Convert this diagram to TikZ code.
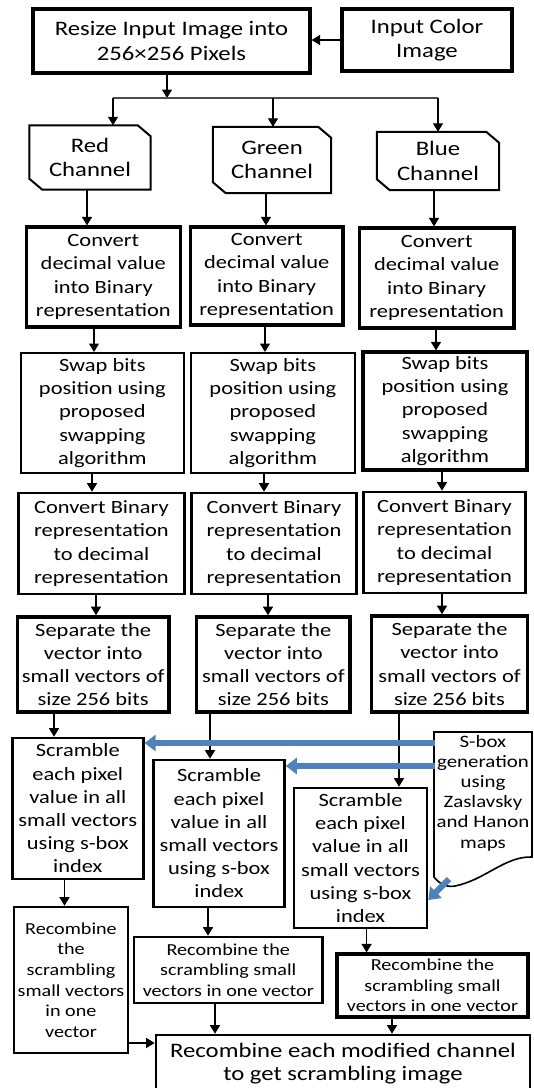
\documentclass[tikz,border=0pt]{standalone}
\usepackage{fontspec}
\setmainfont{Carlito}[FakeStretch=1.2]
\usetikzlibrary{arrows.meta,calc}

\definecolor{sboxblue}{RGB}{79,129,189}

\begin{document}
\begin{tikzpicture}[x=1pt,y=-1pt,
  frame/.style={draw=black,rectangle,align=center,inner sep=0pt,fill=white,text=black},
  thinbox/.style={frame,line width=2pt},
  midbox/.style={frame,line width=2.6pt},
  thickbox/.style={frame,line width=3.2pt},
  bigtext/.style={font=\fontsize{20.6}{24.5}\selectfont},
  finaltext/.style={font=\fontsize{20.6}{23}\selectfont},
  maintext/.style={font=\fontsize{18.7}{23.2}\selectfont},
  smalltext/.style={font=\fontsize{16.8}{20.6}\selectfont},
  sboxtext/.style={font=\fontsize{17.4}{20.2}\selectfont},
  plain/.style={draw=black,line width=1.3pt},
  arr/.style={plain,-{Triangle[width=10pt,length=8.5pt]}},
  bluearr/.style={draw=sboxblue,line width=6pt,-{Triangle[width=16pt,length=11pt]}},
  chanline/.style={draw=black,line width=2pt,line join=miter},
  docline/.style={draw=black,line width=1.6pt}
]
% page area
\fill[white] (0,0) rectangle (534,1088);
\useasboundingbox (0,0) rectangle (534,1088);

% top row
\node[thickbox,bigtext,minimum width=277pt,minimum height=64pt] (resize) at (171.5,41) {Resize Input Image into\\256×256 Pixels};
\node[thickbox,bigtext,minimum width=170pt,minimum height=62pt] (input) at (427,40) {Input Color\\Image};

% colour channels (outlines drawn below)
\node[bigtext,align=center,minimum width=121pt,minimum height=64pt,inner sep=0pt] (red) at (90,157.5) {Red\\Channel};
\node[bigtext,align=center,minimum width=118pt,minimum height=66pt,inner sep=0pt] (green) at (272,160) {Green\\Channel};
\node[bigtext,align=center,minimum width=122pt,minimum height=58pt,inner sep=0pt] (blue) at (438,161) {Blue\\Channel};
\foreach \c in {red,green,blue}{
  \draw[chanline] (\c.north west) -- ([xshift=-13pt]\c.north east) -- ([yshift=-11pt]\c.north east)
    -- (\c.south east) -- ([xshift=13pt]\c.south west) -- ([yshift=11pt]\c.south west) -- cycle;
}

% decimal to binary
\node[thickbox,maintext,minimum width=153.6pt,minimum height=100pt] (convR) at (103.3,277) {Convert\\decimal value\\into Binary\\representation};
\node[thickbox,maintext,minimum width=152.5pt,minimum height=98pt] (convG) at (266.7,276) {Convert\\decimal value\\into Binary\\representation};
\node[thickbox,maintext,minimum width=154.6pt,minimum height=100pt] (convB) at (436.7,278) {Convert\\decimal value\\into Binary\\representation};

% bit swapping
\node[thinbox,maintext,minimum width=163.8pt,minimum height=120pt] (swapR) at (102.4,413) {Swap bits\\position using\\proposed\\swapping\\algorithm};
\node[thinbox,maintext,minimum width=164.8pt,minimum height=120pt] (swapG) at (272.9,413) {Swap bits\\position using\\proposed\\swapping\\algorithm};
\node[thickbox,maintext,minimum width=164pt,minimum height=118pt] (swapB) at (445,411) {Swap bits\\position using\\proposed\\swapping\\algorithm};

% binary to decimal
\node[midbox,maintext,minimum width=166pt,minimum height=101pt] (cbinR) at (101.4,543.5) {Convert Binary\\representation\\to decimal\\representation};
\node[midbox,maintext,minimum width=165pt,minimum height=101pt] (cbinG) at (274,543.5) {Convert Binary\\representation\\to decimal\\representation};
\node[midbox,maintext,minimum width=162pt,minimum height=101pt] (cbinB) at (444.5,542.5) {Convert Binary\\representation\\to decimal\\representation};

% splitting into small vectors
\node[thickbox,maintext,minimum width=151.6pt,minimum height=95pt,line width=3.6pt] (sepR) at (93.2,664.5) {Separate the\\vector into\\small vectors of\\size 256 bits};
\node[thickbox,maintext,minimum width=153.6pt,minimum height=95pt,line width=3.6pt] (sepG) at (273.4,664.5) {Separate the\\vector into\\small vectors of\\size 256 bits};
\node[thickbox,maintext,minimum width=155.7pt,minimum height=96pt,line width=3.6pt] (sepB) at (449.5,664) {Separate the\\vector into\\small vectors of\\size 256 bits};

% scrambling
\node[midbox,maintext,minimum width=131pt,minimum height=141pt] (scrR) at (77.8,808.5) {Scramble\\each pixel\\value in all\\small vectors\\using s-box\\index};
\node[midbox,maintext,minimum width=131pt,minimum height=147pt] (scrG) at (219,833.5) {Scramble\\each pixel\\value in all\\small vectors\\using s-box\\index};
\node[midbox,maintext,minimum width=133pt,minimum height=140pt] (scrB) at (360.5,858) {Scramble\\each pixel\\value in all\\small vectors\\using s-box\\index};

% s-box document
\node[sboxtext,align=center,inner sep=0pt] (sbox) at (483,793) {S-box\\generation\\using\\Zaslavsky\\and Hanon\\maps};
\draw[docline] (434,732) -- (532,732) -- (532,857)
  .. controls (505,856) and (485,880) .. (455,886)
  .. controls (445,888) and (438,882) .. (434,877) -- cycle;

% recombining
\node[midbox,smalltext,minimum width=114pt,minimum height=146pt] (recR) at (71,980) {Recombine\\the\\scrambling\\small vectors\\in one\\vector};
\node[midbox,smalltext,minimum width=188.6pt,minimum height=66pt] (recG) at (228.3,970) {Recombine the\\scrambling small\\vectors in one vector};
\node[thickbox,smalltext,minimum width=191pt,minimum height=63pt] (recB) at (432.5,985.5) {Recombine the\\scrambling small\\vectors in one vector};

\node[midbox,finaltext,minimum width=374pt,minimum height=58pt] (final) at (343,1064) {Recombine each modified channel\\to get scrambling image};

% connectors: top
\draw[arr] (input.west) -- (input.west -| resize.east);
\coordinate (split) at (167,98);
\coordinate (sl) at (113,98);
\coordinate (sg) at (273,98);
\coordinate (sr) at (438,98);
\draw[arr] (resize.south -| split) -- (split);
\draw[plain,draw=black!70,line width=1.4pt] (sl) -- (sr);
\draw[arr] (sl) -- (sl |- red.north);
\draw[arr] (sg) -- (sg |- green.north);
\draw[arr] (sr) -- (sr |- blue.north);

% connectors: red column
\draw[arr] (red.south -| 87,0) -- (convR.north -| 87,0);
\draw[arr] (convR.south -| 94,0) -- (swapR.north -| 94,0);
\draw[arr] (swapR.south -| 92,0) -- (cbinR.north -| 92,0);
\draw[arr] (cbinR.south -| 96,0) -- (sepR.north -| 96,0);
\draw[arr] (sepR.south -| 54,0) -- (scrR.north -| 54,0);
\draw[arr] (scrR.south -| 64.5,0) -- (recR.north -| 64.5,0);

% connectors: green column
\draw[arr] (green.south -| 266,0) -- (convG.north -| 266,0);
\draw[arr] (convG.south -| 265,0) -- (swapG.north -| 265,0);
\draw[arr] (swapG.south -| 264,0) -- (cbinG.north -| 264,0);
\draw[arr] (cbinG.south -| 268,0) -- (sepG.north -| 268,0);
\draw[arr] (sepG.south -| 210,0) -- (scrG.north -| 210,0);
\draw[arr] (scrG.south -| 208,0) -- (recG.north -| 208,0);

% connectors: blue column
\draw[arr] (blue.south -| 434,0) -- (convB.north -| 434,0);
\draw[arr] (convB.south -| 436,0) -- (swapB.north -| 436,0);
\draw[arr] (swapB.south -| 442,0) -- (cbinB.north -| 442,0);
\draw[arr] (cbinB.south -| 442,0) -- (sepB.north -| 442,0);
\draw[arr] (sepB.south -| 399,0) -- (scrB.north -| 399,0);
\draw[arr] (scrB.south -| 366.6,0) -- (recB.north -| 366.6,0);

% connectors: into the final box
\draw[arr] (recG.south -| 215,0) -- (final.north -| 215,0);
\draw[arr] (recB.south -| 392,0) -- (final.north -| 392,0);
\draw[arr] (recR.east |- 0,1043) -- (final.west |- 0,1043);

% s-box feeds
\coordinate (s1) at (435,743);
\coordinate (s2) at (435,766);
\coordinate (s3) at (449,879);
\draw[bluearr] (s1) -- (s1 -| scrR.east);
\draw[bluearr] (s2) -- (s2 -| scrG.east);
\draw[bluearr] (s3) -- (scrB.east |- 0,900);
\end{tikzpicture}
\end{document}
